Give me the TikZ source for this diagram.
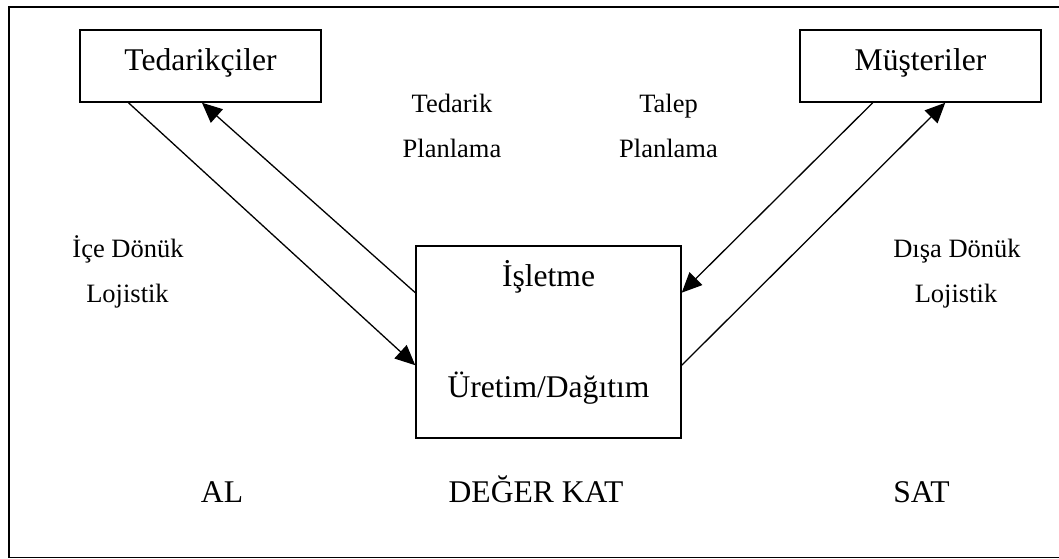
\documentclass[tikz,border=0pt]{standalone}
\usepackage{fontspec}
\setmainfont{Liberation Serif}
\usetikzlibrary{arrows.meta,calc}
\tikzset{
  box/.style={draw, line width=1.5pt, inner sep=0pt},
  big/.style={font=\fontsize{31.6}{38}\selectfont, inner sep=0pt, anchor=base},
  small/.style={font=\fontsize{26.5}{32}\selectfont, inner sep=0pt, anchor=base},
  flowarrow/.style={line width=1.3pt, -{Triangle[length=20pt,width=18pt]}},
}
\begin{document}
\begin{tikzpicture}[x=1pt,y=-1pt]
  \useasboundingbox (0,0) rectangle (1059,558);
  % outer frame
  \node[draw, line width=1.6pt, inner sep=0pt, minimum width=1060pt, minimum height=550.5pt, anchor=north west] (frame) at (8,6) {};

  % boxes
  \node[box, minimum width=241pt, minimum height=72pt] (ted) at (200.5,66) {};
  \node[box, minimum width=241pt, minimum height=72pt] (mus) at (920.5,66) {};
  \node[box, minimum width=265pt, minimum height=192pt] (isl) at (548.5,342) {};

  % box texts
  \node[big] (tedT) at (200.5,70) {Tedarikçiler};
  \node[big] (musT) at (920.5,70) {Müşteriler};
  \node[big] (islT) at (548.5,286) {İşletme};
  \node[big] (uretT) at (548.5,397) {Üretim/Dağıtım};

  % planning and logistics labels
  \node[small] (tp1) at (452,112) {Tedarik};
  \node[small] (tp2) at (452,157) {Planlama};
  \node[small] (lp1) at (668.5,112) {Talep};
  \node[small] (lp2) at (668.5,157) {Planlama};
  \node[small] (ic1) at (128,257) {İçe Dönük};
  \node[small] (ic2) at (127.5,302) {Lojistik};
  \node[small] (di1) at (957,257) {Dışa Dönük};
  \node[small] (di2) at (956,302) {Lojistik};

  % bottom labels
  \node[big] (al) at (222,502) {AL};
  \node[big] (deger) at (536,502) {DEĞER KAT};
  \node[big] (sat) at (921.5,502) {SAT};

  % connectors
  \draw[flowarrow] ($(ted.south west)!0.203!(ted.south east)$) -- ($(isl.north west)!0.62!(isl.south west)$);
  \draw[flowarrow] ($(isl.north west)!0.245!(isl.south west)$) -- ($(ted.south west)!0.506!(ted.south east)$);
  \draw[flowarrow] ($(mus.south west)!0.303!(mus.south east)$) -- ($(isl.north east)!0.245!(isl.south east)$);
  \draw[flowarrow] ($(isl.north east)!0.62!(isl.south east)$) -- ($(mus.south west)!0.602!(mus.south east)$);
\end{tikzpicture}
\end{document}
